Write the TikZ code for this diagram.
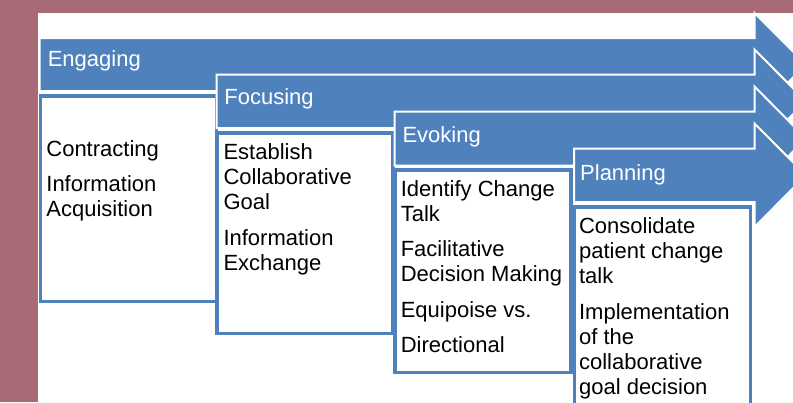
\documentclass[tikz,border=0pt]{standalone}
\usepackage{fontspec}
\setmainfont{Liberation Sans}
\definecolor{stageblue}{RGB}{79,129,189}
\definecolor{framemauve}{RGB}{168,106,117}
% one stage arrow: #1 left edge, #2 top of shaft, #3 bottom of shaft
\newcommand{\stageshape}[3]{%
  \filldraw[stagearrow] (#1,#2) -- (754.5,#2) -- (754.5,#2-25)
    -- (806,{(#2+#3)/2}) -- (754.5,#3+25) -- (754.5,#3) -- (#1,#3) -- cycle;}
\begin{document}
\begin{tikzpicture}[x=1pt,y=-1pt,
  stagearrow/.style={fill=stageblue,draw=white,line width=2pt,line join=miter},
  stagebox/.style={fill=white,draw=stageblue,line width=3.5pt},
  headtext/.style={anchor=base west,inner sep=0pt,text=white,
    font=\fontsize{22}{25}\selectfont},
  bodytext/.style={anchor=north west,inner sep=0pt,align=left,
    font=\fontsize{22}{25}\selectfont}]
\useasboundingbox (0,0) rectangle (793,402);
\clip (0,0) rectangle (793,402);
% page frame
\fill[framemauve] (0,0) rectangle (793,402);
\fill[white] (37,13) rectangle (793,402);
\draw[gray,line width=1pt] (37,13) -- (37,402);

% Engaging
\stageshape{39.5}{38}{91}
\draw[stagebox] (40.5,96) rectangle (216.5,301.5);
\node[headtext] (engaging) at (47.6,66.7) {Engaging};
\node[bodytext] (engagingtext) at (46.2,138.5)
  {\strut Contracting\\[10.5pt] Information\\ Acquisition};

% Focusing
\stageshape{216.5}{74.5}{128}
\draw[stagebox] (216.8,133) rectangle (392.8,333.5);
\node[headtext] (focusing) at (224.2,104) {Focusing};
\node[bodytext] (focusingtext) at (223.3,141.8)
  {\strut Establish\\ Collaborative\\ Goal\\[10.5pt] Information\\ Exchange};

% Evoking
\stageshape{394.5}{111.5}{165.5}
\draw[stagebox] (395,170) rectangle (571,372.5);
\node[headtext] (evoking) at (402.3,142.3) {Evoking};
\node[bodytext] (evokingtext) at (400.6,178.5)
  {\strut Identify Change\\ Talk\\[10.5pt] Facilitative\\ Decision Making\\[10.5pt]
   Equipoise vs.\\[10.5pt] Directional};

% Planning
\stageshape{574}{148.5}{202}
\draw[stagebox] (574.5,207) rectangle (750.5,420);
\node[headtext] (planning) at (580,180) {Planning};
\node[bodytext] (planningtext) at (578.9,215.8)
  {\strut Consolidate\\ patient change\\ talk\\[10.5pt] Implementation\\ of the\\
   collaborative\\ goal decision};
\end{tikzpicture}
\end{document}
